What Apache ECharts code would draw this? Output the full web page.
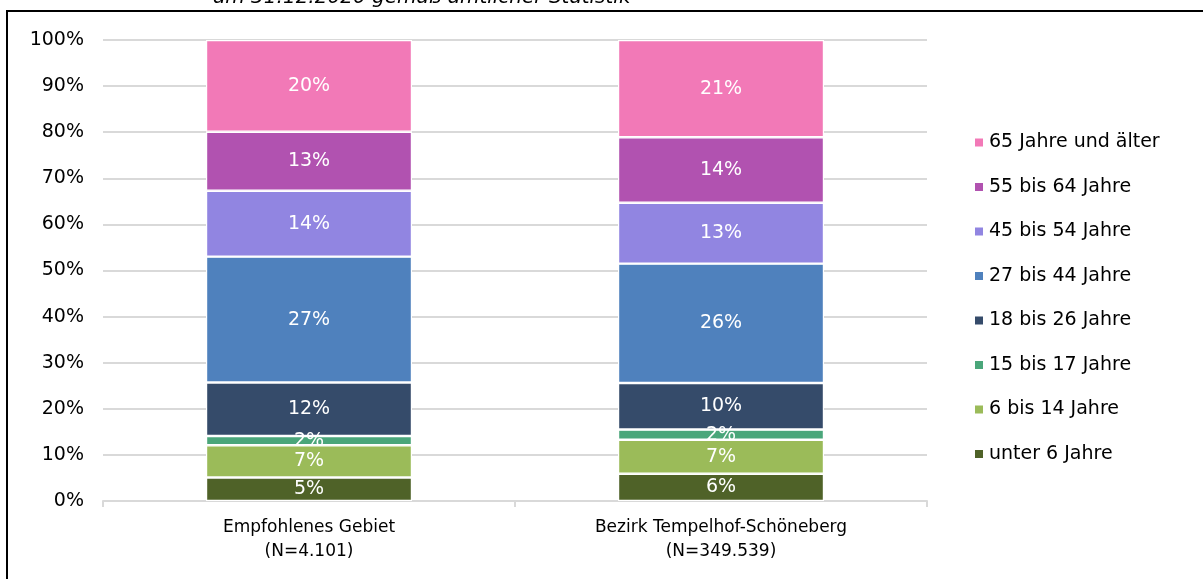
<!DOCTYPE html>
<html>
<head>
<meta charset="utf-8">
<script src="https://cdn.jsdelivr.net/npm/echarts@6/dist/echarts.min.js"></script>
<style>
html,body{margin:0;padding:0;background:#fff;}
#c{width:1203px;height:579px;}
</style>
</head>
<body>
<div id="c"></div>
<script>
const categories = ['Empfohlenes Gebiet\n(N=4.101)', 'Bezirk Tempelhof-Schöneberg\n(N=349.539)'];
const seriesNames = ['unter 6 Jahre', '6 bis 14 Jahre', '15 bis 17 Jahre', '18 bis 26 Jahre', '27 bis 44 Jahre', '45 bis 54 Jahre', '55 bis 64 Jahre', '65 Jahre und älter'];
const unter6 = [5.1, 5.9];
const j6bis14 = [7.0, 7.4];
const j15bis17 = [2.0, 2.2];
const j18bis26 = [11.6, 10.1];
const j27bis44 = [27.3, 25.9];
const j45bis54 = [14.3, 13.2];
const j55bis64 = [12.8, 14.2];
const j65plus = [19.9, 21.1];
const seriesValues = [unter6, j6bis14, j15bis17, j18bis26, j27bis44, j45bis54, j55bis64, j65plus];
const colors = ['#4F6228', '#9BBB59', '#4AA67A', '#354B6A', '#4F81BD', '#9185E1', '#B152B0', '#F279B7'];
const yTicks = [0, 10, 20, 30, 40, 50, 60, 70, 80, 90, 100];
const subtitle = 'am 31.12.2020 gemäß amtlicher Statistik';

const FONT = 'DejaVu Sans';
const chart = echarts.init(document.getElementById('c'));
chart.setOption({
  animation: false,
  textStyle: { fontFamily: FONT },
  grid: { left: 103, right: 276, top: 40, bottom: 78, containLabel: false },
  graphic: [
    { type: 'line', shape: { x1: 6, y1: 11, x2: 1203, y2: 11 }, style: { stroke: '#000', lineWidth: 2 } },
    { type: 'line', shape: { x1: 7, y1: 11, x2: 7, y2: 579 }, style: { stroke: '#000', lineWidth: 2 } },
    { type: 'text', left: 213, top: -12, style: { text: subtitle, font: 'italic 20px "DejaVu Sans"', fill: '#000' } }
  ],
  legend: {
    orient: 'vertical',
    left: 968,
    top: 128,
    itemWidth: 10,
    itemHeight: 10,
    itemGap: 25.5,
    icon: 'rect',
    data: seriesNames.slice().reverse(),
    textStyle: { fontFamily: FONT, fontSize: 19, color: '#000' }
  },
  xAxis: {
    type: 'category',
    data: categories,
    axisLine: { lineStyle: { color: '#d9d9d9', width: 2 } },
    axisTick: { show: true, length: 6, lineStyle: { color: '#d9d9d9', width: 2 } },
    axisLabel: { color: '#000', fontSize: 17, lineHeight: 24, margin: 15, fontFamily: FONT }
  },
  yAxis: {
    type: 'value',
    min: 0, max: 100, interval: 10,
    axisLabel: { formatter: v => yTicks.includes(v) ? v + '%' : '', color: '#000', fontSize: 19, margin: 19, fontFamily: FONT },
    splitLine: { lineStyle: { color: '#d9d9d9', width: 2 } },
    axisLine: { show: false },
    axisTick: { show: false }
  },
  series: seriesNames.map((name, i) => ({
    name: name,
    type: 'bar',
    stack: 'total',
    barWidth: '50%',
    data: seriesValues[i],
    itemStyle: { color: colors[i], borderColor: '#fff', borderWidth: 1.2 },
    label: {
      show: true,
      position: 'inside',
      color: '#fff',
      fontSize: 19,
      fontFamily: FONT,
      formatter: p => Math.round(p.value) + '%'
    }
  }))
});
</script>
</body>
</html>
